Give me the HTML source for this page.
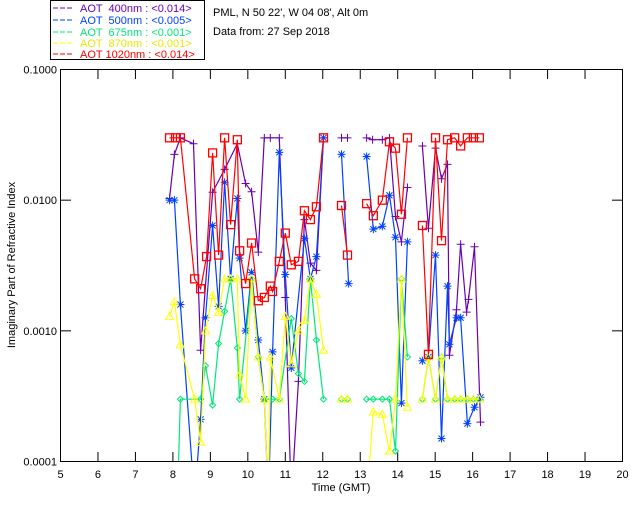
<!DOCTYPE html>
<html><head><meta charset="utf-8"><style>
body{margin:0;background:#fff}
svg{display:block;font-family:"Liberation Sans",sans-serif;font-size:11px}
.pre{white-space:pre}
</style></head><body>
<svg id="chart" width="640" height="512" xmlns="http://www.w3.org/2000/svg">
<rect width="640" height="512" fill="#fff"/>
<g>
<rect x="50.5" y="0.5" width="154" height="59" fill="#fff" stroke="#000"/>
<g><line x1="53" y1="8" x2="74" y2="8" stroke="#6a00b0" stroke-dasharray="5,2"/><text class="pre" x="80" y="12" fill="#6a00b0">AOT  400nm : &lt;0.014&gt;</text></g>
<g><line x1="53" y1="20" x2="74" y2="20" stroke="#0040ff" stroke-dasharray="5,2"/><text class="pre" x="80" y="24" fill="#0040ff">AOT  500nm : &lt;0.005&gt;</text></g>
<g><line x1="53" y1="32" x2="74" y2="32" stroke="#00e878" stroke-dasharray="5,2"/><text class="pre" x="80" y="36" fill="#00e878">AOT  675nm : &lt;0.001&gt;</text></g>
<g><line x1="53" y1="43" x2="74" y2="43" stroke="#ffff00" stroke-dasharray="5,2"/><text class="pre" x="80" y="47" fill="#e8e800">AOT  870nm : &lt;0.001&gt;</text></g>
<g><line x1="53" y1="54" x2="74" y2="54" stroke="#ff0000" stroke-dasharray="5,2"/><text class="pre" x="80" y="58" fill="#ff0000">AOT 1020nm : &lt;0.014&gt;</text></g>
</g>
<text x="213" y="16">PML, N 50 22', W 04 08', Alt 0m</text>
<text x="213" y="35">Data from: 27 Sep 2018</text>
<text transform="translate(15,265) rotate(-90)" text-anchor="middle" font-size="11">Imaginary Part of Refractive Index</text>
<text x="341" y="491" text-anchor="middle">Time (GMT)</text>
<defs><clipPath id="clip"><rect x="60" y="69" width="562" height="392"/></clipPath></defs>
<g id="axes"></g>
<g id="series" clip-path="url(#clip)"></g>
<rect x="60.5" y="69.5" width="562" height="392" fill="none" stroke="#000"/>
</svg>
<script>
const xTicks=[5,6,7,8,9,10,11,12,13,14,15,16,17,18,19,20];
const yTicks=[0.0001,0.001,0.01,0.1];
const yTickLabels=["0.0001","0.0010","0.0100","0.1000"];
const LOW=0.00005;
const t400=[7.91,8.04,8.20,8.55,8.74,9.06,9.38,9.72,9.94,10.10,10.28,10.44,10.60,10.84,11.00,11.16,11.35,11.51,11.67,11.83,12.02,null,12.50,12.66,null,13.17,13.33,13.59,13.78,13.94,14.10,14.26,null,14.66,14.82,15.01,15.17,15.33,15.38,15.57,15.68,15.84,15.89,16.05,16.21];
const v400=[0.0103,0.0224,0.030,0.027,0.00071,0.0115,0.0172,0.027,0.0134,0.0116,0.0040,0.030,0.030,0.030,0.0018,LOW,0.00041,0.0071,0.0033,0.0029,0.030,null,0.030,0.030,null,0.030,0.029,0.029,0.030,0.0075,0.0048,0.0125,null,0.026,0.0061,0.025,0.0146,0.0188,0.00065,0.00145,0.0046,0.00139,0.00174,0.0044,0.0002];
const t500=[7.91,8.04,8.20,8.58,8.74,8.87,9.06,9.22,9.38,9.54,9.72,9.78,9.94,10.10,10.28,10.44,10.55,10.66,10.84,11.00,11.16,11.51,11.67,11.83,12.02,null,12.50,12.69,null,13.17,13.35,13.59,13.78,13.94,14.10,14.26,null,14.66,14.82,15.01,15.17,15.33,15.38,15.57,15.68,15.86,16.05,16.21];
const v500=[0.0100,0.0100,0.00159,LOW,0.00021,0.00126,0.0064,0.00154,0.0137,0.0025,0.0103,0.0036,0.0010,0.0028,0.00085,0.00030,LOW,0.00069,0.0232,0.0027,0.00052,0.0051,0.0025,0.0037,0.030,null,0.0224,0.0023,null,0.0216,0.0060,0.0063,0.0109,0.0052,0.00028,0.0048,null,0.00059,0.00063,0.0038,0.00015,0.0022,0.00079,0.00126,0.00126,0.000195,0.00026,0.00031];
const t675=[8.12,8.20,8.74,8.87,9.06,9.22,9.38,9.54,9.72,9.78,10.10,10.28,10.44,10.66,10.84,11.16,11.35,11.51,11.67,11.83,12.02,null,12.50,12.66,null,13.17,13.35,13.59,13.78,13.94,14.10,14.26,null,14.66,14.82,15.01,15.17,15.33,15.52,15.68,15.86,16.02,16.18];
const v675=[LOW,0.0003,0.0003,0.00054,0.00027,0.00080,0.00141,0.0025,0.00074,0.0003,0.0025,0.00063,0.0003,0.0003,0.0003,0.00124,0.00047,0.00041,0.0025,0.00085,0.0003,null,0.0003,0.0003,null,0.0003,0.0003,0.0003,0.0003,0.00012,0.0025,0.00063,null,0.0003,0.00063,0.0003,0.00063,0.0003,0.0003,0.0003,0.0003,0.0003,0.0003];
const t870=[7.91,8.04,8.20,8.58,8.74,8.87,9.06,9.22,9.38,9.54,9.72,9.78,9.94,10.10,10.28,10.44,10.55,10.60,10.84,11.00,11.16,11.35,11.51,11.67,11.83,12.02,null,12.50,12.66,null,13.17,13.35,13.59,13.78,13.94,14.10,14.26,null,14.66,14.82,15.01,15.17,15.33,15.52,15.68,15.86,16.02,16.18];
const v870=[0.00129,0.00167,0.00078,0.0003,0.00014,0.0010,0.00187,0.00138,0.0025,0.0025,0.0025,0.00046,0.0003,0.0025,0.00063,0.0003,LOW,0.00063,0.0003,0.00129,0.00056,0.0010,0.0012,0.0025,0.0019,0.00071,null,0.0003,0.0003,null,LOW,0.00024,0.00023,0.00012,0.0003,0.0025,0.00026,null,0.0003,0.00063,0.0003,0.00063,0.0003,0.0003,0.0003,0.0003,0.0003,0.0003];
const t1020=[7.91,8.07,8.20,8.58,8.74,8.90,9.06,9.22,9.38,9.54,9.72,9.78,9.94,10.10,10.28,10.44,10.60,10.66,10.84,11.00,11.16,11.35,11.51,11.67,11.83,12.02,null,12.50,12.66,null,13.17,13.35,13.59,13.78,13.94,14.10,14.26,null,14.66,14.82,15.01,15.17,15.33,15.52,15.68,15.86,16.02,16.18];
const v1020=[0.030,0.030,0.030,0.0025,0.0021,0.0037,0.023,0.0038,0.030,0.0065,0.029,0.0041,0.0023,0.0047,0.0017,0.0018,0.0022,0.0020,0.0034,0.0056,0.0032,0.0034,0.0083,0.0071,0.0089,0.030,null,0.0091,0.0038,null,0.0094,0.0076,0.0100,0.028,0.025,0.0078,0.030,null,0.0064,0.00066,0.030,0.0049,0.029,0.030,0.026,0.030,0.030,0.030];

const NS="http://www.w3.org/2000/svg";
function xs(h){return 60.5+(h-5)*(562/15);}
function ys(v){return 69.5+(-1-Math.log10(v))*(392/3);}
function mk(tag,attrs,parent){const e=document.createElementNS(NS,tag);for(const k in attrs)e.setAttribute(k,attrs[k]);parent.appendChild(e);return e;}
const axes=document.getElementById('axes');
xTicks.forEach((t,i)=>{
  const g=mk('g',{},axes);
  
  
  if(i>0&&i<xTicks.length-1){mk('line',{x1:xs(t),x2:xs(t),y1:461.5,y2:452,stroke:'#000'},g);mk('line',{x1:xs(t),x2:xs(t),y1:69.5,y2:79,stroke:'#000'},g);}
  const tx=mk('text',{x:xs(t),y:478,'text-anchor':'middle'},g);tx.textContent=t;
});
yTicks.forEach((v,i)=>{
  const g=mk('g',{},axes);
  
  
  if(i>0&&i<yTicks.length-1){mk('line',{x1:60.5,x2:71,y1:ys(v),y2:ys(v),stroke:'#000'},g);mk('line',{x1:612,x2:622.5,y1:ys(v),y2:ys(v),stroke:'#000'},g);}
  const tx=mk('text',{x:57,y:ys(v)+4,'text-anchor':'end'},g);tx.textContent=yTickLabels[i];
});
const sg=document.getElementById('series');
function marker(kind,x,y,c,g){
  if(kind==='plus'){mk('path',{d:`M${x-4},${y}H${x+4}M${x},${y-4}V${y+4}`,stroke:c,fill:'none'},g);}
  else if(kind==='star'){mk('path',{d:`M${x-4},${y}H${x+4}M${x},${y-4}V${y+4}M${x-3},${y-3}L${x+3},${y+3}M${x-3},${y+3}L${x+3},${y-3}`,stroke:c,fill:'none'},g);}
  else if(kind==='diamond'){mk('path',{d:`M${x},${y-3}L${x+3},${y}L${x},${y+3}L${x-3},${y}Z`,stroke:c,fill:'none'},g);}
  else if(kind==='tri'){mk('path',{d:`M${x},${y-4}L${x+4},${y+3}L${x-4},${y+3}Z`,stroke:c,fill:'none'},g);}
  else {mk('rect',{x:x-4,y:y-4,width:8,height:8,stroke:c,fill:'none','stroke-width':1.3},g);}
}
function draw(name,ts,vs,c,kind){
  const g=mk('g',{},sg);
  
  
  let d='',start=true;
  ts.forEach((t,i)=>{if(t===null||vs[i]===null){start=true;return;}d+=(start?'M':'L')+xs(t).toFixed(1)+','+ys(vs[i]).toFixed(1);start=false;});
  mk('path',{d:d,stroke:c,fill:'none','stroke-width':1.2},g);
  ts.forEach((t,i)=>{if(t!==null&&vs[i]!==null&&vs[i]>LOW)marker(kind,xs(t),ys(vs[i]),c,g);});
}
draw('series-400nm',t400,v400,'#6a00b0','plus');
draw('series-500nm',t500,v500,'#0040ff','star');
draw('series-675nm',t675,v675,'#00e878','diamond');
draw('series-870nm',t870,v870,'#ffff00','tri');
draw('series-1020nm',t1020,v1020,'#ff0000','square');
</script>
</body></html>
